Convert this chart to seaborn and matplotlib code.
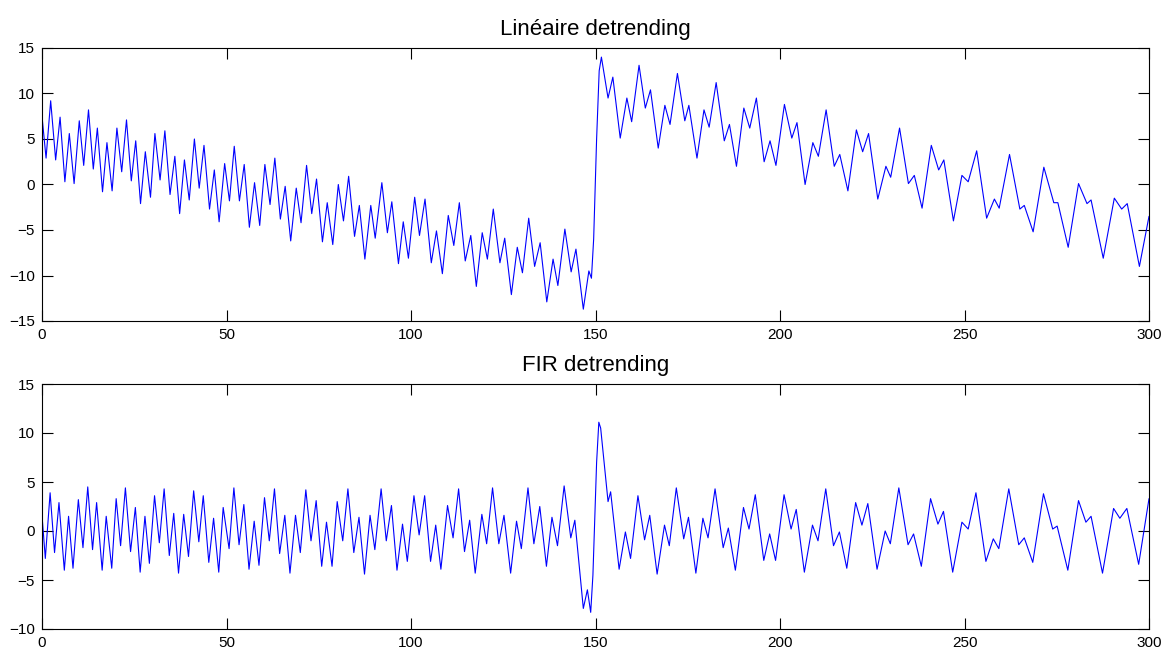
# coding=utf-8

import matplotlib
matplotlib.use('Agg')
import matplotlib.pyplot as plt
import numpy as np
import pandas as pd
import seaborn as sns

# extrema (x, value)
lin_x = [0, 1.1, 2.35, 3.7, 4.9, 6.2, 7.4, 8.7, 10.1, 11.3, 12.6, 13.9, 15.0, 16.4, 17.6, 19.0,
         20.3, 21.6, 22.9, 24.2, 25.4, 26.7, 28.0, 29.4, 30.6, 32.0, 33.3, 34.7, 36.0, 37.3,
         38.6, 39.9, 41.3, 42.6, 43.9, 45.4, 46.7, 48.0, 49.5,
         50.8, 52.1, 53.5, 54.8, 56.2, 57.6, 59.0, 60.4, 61.8, 63.1, 64.6, 65.9, 67.4, 68.9,
         70.2, 71.7, 73.1, 74.4, 76.0, 77.3, 78.8, 80.3, 81.7, 83.1, 84.7, 86.0, 87.5, 89.1,
         90.3, 92.1, 93.6, 94.8, 96.6, 97.9, 99.3,
         101.0, 102.3, 103.8, 105.5, 106.9, 108.5, 110.1, 111.6, 113.1, 114.7, 116.2, 117.7,
         119.3, 120.7, 122.3, 124.1, 125.4, 127.2, 128.8, 130.2, 131.9, 133.5, 135.0, 136.8,
         138.5, 139.8, 141.7, 143.4, 144.7, 146.7, 148.2, 148.9,
         149.5, 150.3, 151.0, 151.6, 153.4, 154.7, 156.7, 158.5, 159.8, 161.8, 163.5, 164.9,
         167.0, 168.8, 170.2, 172.2, 174.2, 175.3, 177.5, 179.4, 180.8, 182.7, 184.9, 186.3,
         188.2, 190.2, 191.8, 193.6, 195.7, 197.3, 198.9,
         201.2, 203.2, 204.6, 206.8, 208.9, 210.4, 212.5, 214.7, 216.2, 218.4, 220.7, 222.4,
         224.0, 226.5, 228.7, 230.0, 232.4, 234.8, 236.4, 238.5, 241.0, 243.0, 244.4, 247.0,
         249.3, 251.0, 253.3, 256.0, 258.1, 259.4, 262.2, 265.0, 266.2, 268.6, 271.5, 274.2,
         275.3, 278.1, 280.9, 283.2, 284.3, 287.6, 290.6, 292.6, 294.1, 297.4, 300.0]
lin_y = [7.5, 2.9, 9.2, 2.7, 7.4, 0.3, 5.6, 0.1, 7.0, 2.1, 8.2, 1.7, 6.2, -0.8, 4.6, -0.7,
         6.2, 1.4, 7.1, 0.4, 4.8, -2.1, 3.6, -1.4, 5.6, 0.5, 5.9, -1.1, 3.1, -3.2,
         2.7, -1.7, 5.0, -0.4, 4.3, -2.7, 1.6, -4.1, 2.3,
         -1.8, 4.2, -1.8, 2.2, -4.7, 0.2, -4.5, 2.2, -2.2, 2.9, -3.8, -0.2, -6.2, -0.4,
         -4.2, 2.1, -3.2, 0.6, -6.3, -2.0, -6.6, 0.0, -4.0, 0.9, -5.7, -2.3, -8.2, -2.3,
         -5.9, 0.2, -5.3, -1.9, -8.7, -4.1, -8.1,
         -1.4, -5.6, -1.6, -8.6, -5.1, -9.8, -3.4, -6.7, -2.0, -8.4, -5.6, -11.2,
         -5.3, -8.2, -2.7, -8.6, -5.9, -12.1, -6.9, -9.7, -3.7, -9.0, -6.4, -12.9,
         -8.2, -11.1, -4.9, -9.6, -7.1, -13.7, -9.5, -10.3,
         -6.0, 5.0, 12.5, 14.0, 9.5, 11.8, 5.1, 9.5, 6.9, 13.1, 8.4, 10.4,
         4.0, 8.7, 6.6, 12.2, 7.0, 8.7, 2.9, 8.2, 6.3, 11.2, 4.8, 6.6,
         2.0, 8.4, 6.2, 9.5, 2.5, 4.8, 2.1,
         8.8, 5.1, 6.8, 0.0, 4.6, 3.1, 8.2, 2.0, 3.3, -0.7, 6.0, 3.6,
         5.6, -1.6, 2.0, 0.8, 6.2, 0.1, 1.0, -2.6, 4.3, 1.6, 2.7, -4.0,
         1.0, 0.3, 3.7, -3.7, -1.6, -2.6, 3.3, -2.7, -2.3, -5.2, 1.9, -2.0,
         -2.0, -6.9, 0.1, -2.1, -1.7, -8.1, -1.5, -2.7, -2.1, -9.0, -3.5]

fir_x = [0, 0.9, 2.2, 3.4, 4.6, 6.05, 7.2, 8.4, 9.85, 11.1, 12.4, 13.7, 14.8, 16.3, 17.4,
         18.9, 20.1, 21.3, 22.6, 24.0, 25.3, 26.6, 27.9, 29.1, 30.5, 31.8, 33.1, 34.5, 35.7,
         37.0, 38.4, 39.7, 41.1, 42.5, 43.7, 45.2, 46.5, 47.9, 49.1,
         50.7, 52.0, 53.4, 54.7, 56.1, 57.5, 58.8, 60.3, 61.6, 63.0, 64.4, 65.8, 67.2, 68.7,
         70.0, 71.5, 72.9, 74.3, 75.8, 77.1, 78.6, 80.0, 81.5, 82.9, 84.5, 85.9, 87.4, 88.9,
         90.2, 91.9, 93.3, 94.7, 96.2, 97.7, 99.0,
         100.8, 102.2, 103.7, 105.3, 106.7, 108.1, 109.9, 111.4, 112.9, 114.5, 115.9, 117.4,
         119.2, 120.5, 122.1, 123.8, 125.2, 127.0, 128.6, 129.9, 131.7, 133.3, 134.9, 136.7,
         138.2, 139.7, 141.5, 143.3, 144.4, 146.7, 147.8, 148.7,
         149.3, 149.8, 150.3, 150.9, 151.4, 153.4, 154.1, 156.4, 158.1, 159.5, 161.5, 163.3,
         164.7, 166.7, 168.7, 170.0, 171.9, 173.9, 175.2, 177.2, 179.1, 180.5, 182.4, 184.6,
         186.0, 187.9, 190.1, 191.6, 193.3, 195.6, 197.2, 198.8,
         201.1, 203.0, 204.4, 206.6, 208.8, 210.3, 212.4, 214.5, 216.1, 218.1, 220.5, 222.2,
         223.8, 226.3, 228.5, 229.9, 232.2, 234.7, 236.2, 238.3, 240.8, 242.8, 244.3, 246.8,
         249.3, 251.0, 253.1, 255.8, 257.8, 259.3, 262.0, 264.7, 266.2, 268.5, 271.4, 273.9,
         275.1, 278.0, 280.9, 282.9, 284.3, 287.4, 290.4, 292.1, 294.0, 297.2, 300.0]
fir_y = [1.6, -2.8, 3.9, -2.2, 2.9, -4.0, 1.5, -3.8, 3.2, -1.7, 4.5, -1.9, 2.9, -4.0, 1.5,
         -3.8, 3.3, -1.5, 4.4, -2.1, 2.4, -4.2, 1.5, -3.3, 3.6, -1.2, 4.3, -2.5, 1.8,
         -4.3, 1.7, -2.6, 4.1, -1.1, 3.6, -3.2, 1.3, -4.2, 2.4,
         -1.8, 4.4, -1.4, 2.7, -3.9, 1.0, -3.5, 3.4, -1.0, 4.3, -2.3, 1.6, -4.3, 1.6,
         -2.2, 4.2, -1.0, 3.1, -3.6, 0.9, -3.6, 3.0, -1.0, 4.3, -2.2, 1.4, -4.4, 1.6,
         -1.9, 4.3, -1.0, 2.6, -4.0, 0.7, -3.1,
         3.6, -0.4, 3.6, -3.1, 0.6, -3.9, 2.6, -0.7, 4.3, -2.1, 1.1, -4.3,
         1.7, -1.3, 4.4, -1.3, 1.6, -4.3, 1.0, -1.8, 4.4, -1.3, 2.5, -3.6,
         1.4, -1.5, 4.6, -0.7, 1.1, -7.9, -6.0, -8.3,
         -4.5, 1.3, 7.0, 11.1, 10.5, 3.0, 4.0, -3.9, -0.1, -2.8, 3.6, -0.9,
         1.6, -4.4, 0.6, -1.5, 4.4, -0.8, 1.4, -4.3, 1.3, -0.7, 4.3, -1.7,
         0.3, -4.0, 2.4, 0.2, 3.7, -3.0, -0.3, -3.0,
         3.7, 0.2, 2.2, -4.2, 0.6, -1.0, 4.3, -1.5, -0.1, -3.8, 2.9, 0.6,
         2.8, -3.9, 0.0, -1.3, 4.4, -1.4, -0.3, -3.6, 3.3, 0.7, 2.0, -4.2,
         0.9, 0.2, 3.9, -3.1, -0.8, -1.8, 4.3, -1.4, -0.7, -3.2, 3.8, 0.2,
         0.5, -4.0, 3.1, 0.9, 1.5, -4.3, 2.3, 1.3, 2.3, -3.4, 3.3]

titles = ['Linéaire detrending', 'FIR detrending']
x_ticks = [0, 50, 100, 150, 200, 250, 300]
lin_yticks = [-15, -10, -5, 0, 5, 10, 15]
fir_yticks = [-10, -5, 0, 5, 10, 15]

sns.set_theme(style='white')
plt.rcParams['font.family'] = ['Liberation Sans', 'DejaVu Sans']
plt.rcParams.update({
    'text.color': 'black', 'axes.labelcolor': 'black',
    'xtick.direction': 'in', 'ytick.direction': 'in',
    'xtick.top': True, 'ytick.right': True,
    'xtick.bottom': True, 'ytick.left': True,
    'xtick.major.size': 7.9, 'ytick.major.size': 7.9,
    'xtick.major.width': 0.8, 'ytick.major.width': 0.8,
    'xtick.color': 'black', 'ytick.color': 'black',
    'xtick.labelsize': 11, 'ytick.labelsize': 11,
    'xtick.major.pad': 5, 'ytick.major.pad': 5,
})

fig = plt.figure(figsize=(11.66, 6.51), dpi=100)
ax_top = fig.add_axes([42 / 1166, 1 - 321 / 651, 1107 / 1166, 273 / 651])
ax_bot = fig.add_axes([42 / 1166, 1 - 629 / 651, 1107 / 1166, 245 / 651])

panels = [
    (ax_top, pd.DataFrame({'x': lin_x, 'y': lin_y}), (-15, 15), lin_yticks, titles[0]),
    (ax_bot, pd.DataFrame({'x': fir_x, 'y': fir_y}), (-10, 15), fir_yticks, titles[1]),
]
for ax, df, ylim, yticks, title in panels:
    sns.lineplot(data=df, x='x', y='y', ax=ax, color='#0000ff', linewidth=0.8,
                 estimator=None, sort=False, solid_joinstyle='round')
    ax.set_xlim(0, 300)
    ax.set_ylim(*ylim)
    ax.set_xticks(x_ticks)
    ax.set_yticks(yticks)
    ax.set_xlabel('')
    ax.set_ylabel('')
    ax.set_title(title, fontsize=16, pad=9, color='black')
    for s in ax.spines.values():
        s.set_color('black')
        s.set_linewidth(0.8)

fig.savefig('out.png', dpi=100)
